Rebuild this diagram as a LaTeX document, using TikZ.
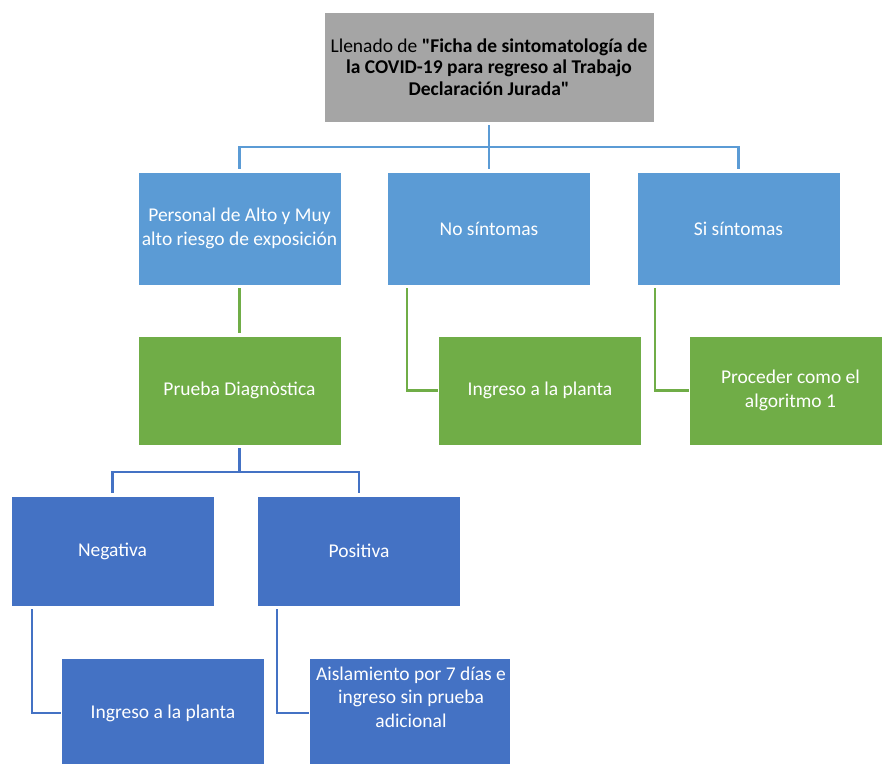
\documentclass[tikz,border=0pt]{standalone}
\usepackage{fontspec}
\setmainfont{Carlito}[Ligatures=TeXOff]
\definecolor{cgray}{HTML}{A5A5A5}
\definecolor{clight}{HTML}{5B9BD5}
\definecolor{cgreen}{HTML}{70AD47}
\definecolor{cdark}{HTML}{4472C4}
\tikzset{
  boxbase/.style={rectangle, draw=white, line width=0.6pt, inner sep=2pt, align=center,
    font=\fontsize{19.5}{24}\selectfont, text=white, minimum width=203pt, minimum height=111pt},
  graybox/.style={boxbase, fill=cgray, text=black, minimum width=330pt, minimum height=110pt,
    font=\fontsize{19.5}{21.5}\selectfont},
  lightbox/.style={boxbase, fill=clight, minimum height=113pt},
  greenbox/.style={boxbase, fill=cgreen, minimum height=109pt},
  darkbox/.style={boxbase, fill=cdark, minimum height=110pt},
  conn/.style={line width=2.6pt, shorten <=3pt, shorten >=3pt},
  lconn/.style={conn, draw=clight},
  gconn/.style={conn, draw=cgreen},
  dconn/.style={conn, draw=cdark},
}
\begin{document}
\begin{tikzpicture}[x=1pt,y=-1pt]
\useasboundingbox (0,0) rectangle (882,763);
\clip (0,0) rectangle (882,763);
\fill[white] (0,0) rectangle (882,763);

\coordinate (f1) at (489,147);
\coordinate (f2) at (239.5,472);

% connectors
\draw[lconn, shorten >=0pt] (489,122) -- (f1);
\draw[lconn, shorten <=0pt] (f1) -- (489,172);
\draw[lconn, shorten <=0pt] (f1) -| (239.5,172);
\draw[lconn, shorten <=0pt] (f1) -| (738.5,172);
\draw[gconn] (239.5,285) -- (239.5,336);
\draw[gconn, shorten >=0pt] (407,285) |- (438,390.5);
\draw[gconn, shorten >=0pt] (655,285) |- (689,390.5);
\draw[dconn, shorten >=0pt] (239.5,445) -- (f2);
\draw[dconn, shorten <=0pt] (f2) -| (112.5,496);
\draw[dconn, shorten <=0pt] (f2) -| (359,496);
\draw[dconn, shorten >=0pt] (32,606) |- (63,713);
\draw[dconn, shorten >=0pt] (277,606) |- (309,713);

% nodes
\node[graybox] (top) at (489,67) {Llenado de \textbf{"Ficha de sintomatología de}\\\textbf{la COVID-19 para regreso al Trabajo}\\\textbf{Declaración Jurada"}};
\node[lightbox] (b1) at (239.5,228.5) {Personal de Alto y Muy\\alto riesgo de exposición};
\node[lightbox] (b2) at (489,228.5) {No síntomas};
\node[lightbox] (b3) at (738.5,228.5) {Si síntomas};
\node[greenbox] (g1) at (239.5,390.5) {Prueba Diagnòstica};
\node[greenbox] (g2) at (540,390.5) {Ingreso a la planta};
\node[greenbox] (g3) at (790.5,390.5) {Proceder como el\\algoritmo 1};
\node[darkbox] (n1) at (112.5,551) {Negativa};
\node[darkbox] (n2) at (359,551) {Positiva};
\node[darkbox] (l5a) at (163,713) {Ingreso a la planta};
\node[darkbox, minimum width=201pt] (l5b) at (409.5,713) {};
\node[align=center, text=white, font=\fontsize{19.5}{23.5}\selectfont, inner sep=0pt] (l5bt) at (411,697) {Aislamiento por 7 días e\\ingreso sin prueba\\adicional};
\end{tikzpicture}
\end{document}
